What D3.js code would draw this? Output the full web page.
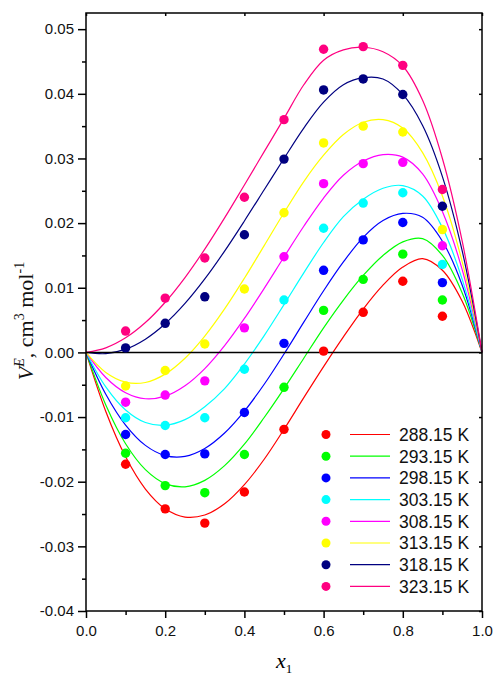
<!DOCTYPE html>
<html><head><meta charset="utf-8">
<script src="https://cdn.jsdelivr.net/npm/d3@7"></script>
<style>body{margin:0;background:#fff}</style>
</head><body><svg id="c" width="497" height="681"></svg>
<script>
// ---------------- data ----------------
const temperatureLabels = ["288.15 K","293.15 K","298.15 K","303.15 K","308.15 K","313.15 K","318.15 K","323.15 K"];
const xMeasured = [0.1,0.2,0.3,0.4,0.5,0.6,0.7,0.8,0.9];
const exp288 = [-0.0173,-0.0242,-0.0264,-0.0216,-0.0119,0.0002,0.0062,0.0110,0.0056];
const exp293 = [-0.0156,-0.0206,-0.0217,-0.0158,-0.0054,0.0065,0.0113,0.0152,0.0081];
const exp298 = [-0.0127,-0.0158,-0.0157,-0.0093,0.0014,0.0127,0.0174,0.0201,0.0108];
const exp303 = [-0.0101,-0.0113,-0.0101,-0.0026,0.0081,0.0192,0.0231,0.0247,0.0136];
const exp308 = [-0.0077,-0.0066,-0.0044,0.0038,0.0148,0.0261,0.0292,0.0294,0.0165];
const exp313 = [-0.0052,-0.0028,0.0013,0.0098,0.0216,0.0324,0.0350,0.0341,0.0190];
const exp318 = [0.0007,0.0045,0.0086,0.0182,0.0299,0.0406,0.0423,0.0399,0.0226];
const exp323 = [0.0033,0.0084,0.0146,0.0240,0.0360,0.0469,0.0473,0.0444,0.0252];

const xFit = [0,0.05,0.1,0.15,0.2,0.25,0.3,0.35,0.4,0.45,0.5,0.55,0.6,0.65,0.7,0.75,0.8,0.85,0.9,0.95,1.0];
const fit288 = [0,-0.00914,-0.01615,-0.02113,-0.02419,-0.02547,-0.02515,-0.02341,-0.02045,-0.01653,-0.0119,-0.0070,-0.0022,0.0024,0.0067,0.0104,0.0132,0.0145,0.0127,0.0079,0];
const fit293 = [0,-0.00813,-0.01413,-0.01813,-0.02029,-0.02079,-0.01979,-0.01752,-0.01420,-0.01007,-0.0056,-0.0009,0.0038,0.0081,0.0119,0.0150,0.0171,0.0176,0.0150,0.0092,0];
const fit298 = [0,-0.00646,-0.01124,-0.01438,-0.01596,-0.01608,-0.01486,-0.01247,-0.00908,-0.00493,-0.00025,0.00468,0.00954,0.01400,0.0178,0.0204,0.0215,0.0209,0.0172,0.0104,0];
const fit303 = [0,-0.00533,-0.00891,-0.01085,-0.01127,-0.01040,-0.00840,-0.0056,-0.0018,0.0026,0.0074,0.0123,0.0170,0.0210,0.0237,0.0254,0.0258,0.0242,0.0193,0.0113,0];
const fit308 = [0,-0.00388,-0.00624,-0.00717,-0.00677,-0.00516,-0.00250,0.00105,0.00526,0.00990,0.01475,0.01951,0.02388,0.0274,0.0296,0.0306,0.0302,0.0276,0.0218,0.0128,0];
const fit313 = [0,-0.00310,-0.00461,-0.00465,-0.00336,-0.00091,0.00252,0.00672,0.01147,0.01652,0.0216,0.02642,0.0305,0.0337,0.0356,0.0360,0.0347,0.0309,0.0242,0.0140,0];
const fit318 = [0,-0.00019,0.00050,0.00205,0.00443,0.00757,0.01136,0.01567,0.02033,0.02516,0.0300,0.0347,0.0387,0.0414,0.0425,0.0423,0.0399,0.0351,0.0272,0.0157,0];
const fit323 = [0,0.00071,0.00226,0.00462,0.00776,0.01158,0.01598,0.02081,0.02590,0.03105,0.0362,0.0414,0.0452,0.0468,0.0472,0.0465,0.0443,0.0390,0.0300,0.0172,0];

const xTicks = [0,0.2,0.4,0.6,0.8,1.0];
const xMinorTicks = [0.1,0.3,0.5,0.7,0.9];
const yTicks = [-0.04,-0.03,-0.02,-0.01,0,0.01,0.02,0.03,0.04,0.05];
const yMinorTicks = [-0.035,-0.025,-0.015,-0.005,0.005,0.015,0.025,0.035,0.045];

// ---------------- styles ----------------
const seriesColors = ["#ff0000","#00ff00","#0000ff","#00ffff","#ff00ff","#ffff00","#000080","#ff0080"];
const measured = [exp288,exp293,exp298,exp303,exp308,exp313,exp318,exp323];
const fitted = [fit288,fit293,fit298,fit303,fit308,fit313,fit318,fit323];

const svg = d3.select("#c");
const L = 86, R = 482, T = 13, B = 611;
const x = d3.scaleLinear().domain([0,1]).range([L,R]);
const y = d3.scaleLinear().domain([-0.04,0.0525]).range([B,T]);
const fmtY = d => (Math.abs(d) < 1e-9 ? 0 : d).toFixed(2);
const fmtX = d => d.toFixed(1);
const sans = "'Liberation Sans', Arial, sans-serif";
const serif = "'Liberation Serif', 'Times New Roman', serif";

// curves
const line = d3.line().x(d => x(d[0])).y(d => y(d[1])).curve(d3.curveCatmullRom.alpha(0.5));
fitted.forEach((arr, i) => {
  svg.append("path").datum(xFit.map((xv, j) => [xv, arr[j]]))
    .attr("d", line).attr("fill", "none").attr("stroke", seriesColors[i]).attr("stroke-width", 1.2);
});

// zero line
svg.append("line").attr("x1", x(0)).attr("x2", x(1)).attr("y1", y(0)).attr("y2", y(0))
  .attr("stroke", "#000").attr("stroke-width", 1.5);

// points
measured.forEach((arr, i) => {
  svg.append("g").selectAll("circle").data(arr).join("circle")
    .attr("cx", (d, j) => x(xMeasured[j])).attr("cy", d => y(d)).attr("r", 4.7)
    .attr("fill", seriesColors[i]);
});

// axes
function styleAxis(g) {
  g.select(".domain").remove();
  g.selectAll("line").attr("stroke", "#000").attr("stroke-width", 1.5);
  g.selectAll("text").attr("font-family", sans).attr("font-size", 15).attr("fill", "#111");
}
svg.append("g").attr("transform", `translate(${L},0)`)
  .call(d3.axisLeft(y).tickValues(yTicks).tickFormat(fmtY).tickSize(8).tickPadding(4)).call(styleAxis);
svg.append("g").attr("transform", `translate(${L},0)`)
  .call(d3.axisLeft(y).tickValues(yMinorTicks).tickFormat("").tickSize(4)).call(styleAxis);
svg.append("g").attr("transform", `translate(0,${B})`)
  .call(d3.axisBottom(x).tickValues(xTicks).tickFormat(fmtX).tickSize(7).tickPadding(7)).call(styleAxis);
svg.append("g").attr("transform", `translate(0,${B})`)
  .call(d3.axisBottom(x).tickValues(xMinorTicks).tickFormat("").tickSize(4)).call(styleAxis);
// top and right inner ticks
svg.append("g").attr("transform", `translate(0,${T})`)
  .call(d3.axisBottom(x).tickValues(xTicks).tickFormat("").tickSize(3)).call(styleAxis);
svg.append("g").attr("transform", `translate(${R},0)`)
  .call(d3.axisLeft(y).tickValues(yTicks).tickFormat("").tickSize(3)).call(styleAxis);

// frame
svg.append("rect").attr("x", L).attr("y", T).attr("width", R - L).attr("height", B - T)
  .attr("fill", "none").attr("stroke", "#000").attr("stroke-width", 1.5);

// legend
temperatureLabels.forEach((lab, i) => {
  const ly = 434.5 + i * 21.7;
  svg.append("circle").attr("cx", 326).attr("cy", ly).attr("r", 4.5).attr("fill", seriesColors[i]);
  svg.append("line").attr("x1", 350).attr("x2", 390).attr("y1", ly).attr("y2", ly)
    .attr("stroke", seriesColors[i]).attr("stroke-width", 1.2);
  svg.append("text").attr("x", 399).attr("y", ly).attr("dy", "0.36em")
    .attr("font-family", sans).attr("font-size", 17.5).attr("fill", "#111").text(lab);
});

// x label
const xl = svg.append("text").attr("x", 276).attr("y", 668).attr("font-family", serif).attr("font-size", 22);
xl.append("tspan").attr("font-style", "italic").text("x");
xl.append("tspan").attr("font-size", 13).attr("dy", 5).text("1");

// y label
const yl = svg.append("text").attr("transform", "translate(33,321) rotate(-90)")
  .attr("text-anchor", "middle").attr("font-family", serif).attr("font-size", 22).attr("fill", "#111");
yl.append("tspan").attr("font-style", "italic").text("V");
yl.append("tspan").attr("font-style", "italic").attr("font-size", 14).attr("dy", -9).text("E");
yl.append("tspan").attr("dy", 9).text(", cm");
yl.append("tspan").attr("font-size", 14).attr("dy", -9).text("3");
yl.append("tspan").attr("dy", 9).text(" mol");
yl.append("tspan").attr("font-size", 14).attr("dy", -9).text("-1");
</script></body></html>
